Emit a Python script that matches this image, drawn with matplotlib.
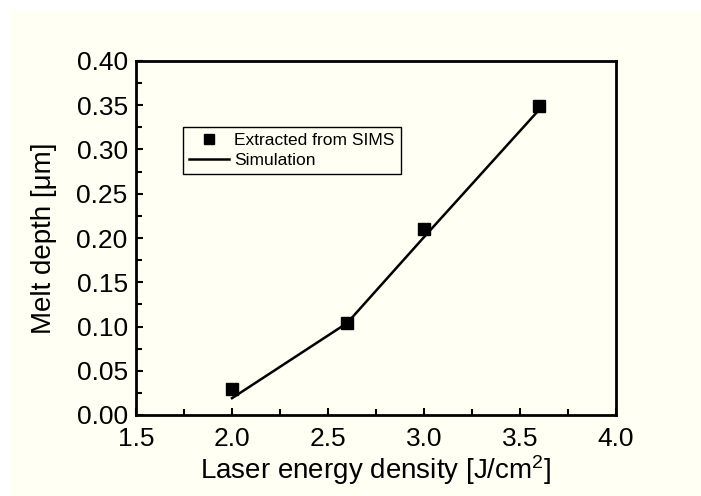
import numpy as np
import matplotlib
matplotlib.use('Agg')
import matplotlib.pyplot as plt
from matplotlib.patches import Rectangle

# Data
sims_x = [2.0, 2.6, 3.0, 3.6]
sims_y = [0.029, 0.104, 0.21, 0.349]
sim_x = [2.0, 2.6, 3.0, 3.6]
sim_y = [0.019, 0.104, 0.201, 0.345]

plt.rcParams['font.family'] = ['Liberation Sans', 'DejaVu Sans']
plt.rcParams['mathtext.fontset'] = 'custom'
plt.rcParams['mathtext.rm'] = 'Liberation Sans'
plt.rcParams['mathtext.it'] = 'Liberation Sans'

cream = '#fffff3'
fig = plt.figure(figsize=(7.01, 4.96), dpi=100, facecolor='white')
fig.patches.append(Rectangle((10 / 701, 0), 1, (496 - 10) / 496,
                             transform=fig.transFigure, facecolor=cream,
                             edgecolor='none', zorder=-1))

ax = fig.add_axes([136 / 701, 1 - 415 / 496, (616 - 136) / 701, (415 - 61) / 496])
ax.set_facecolor(cream)

ax.plot(sim_x, sim_y, color='black', lw=1.8, label='Simulation')
ax.plot(sims_x, sims_y, 's', color='black', ms=9, label='Extracted from SIMS')

ax.set_xlim(1.5, 4.0)
ax.set_ylim(0.0, 0.40)
ax.set_xticks(np.arange(1.5, 4.01, 0.5))
ax.set_yticks(np.arange(0, 0.401, 0.05))
ax.set_xticks(np.arange(1.75, 4.0, 0.5), minor=True)
ax.set_yticks(np.arange(0.025, 0.40, 0.05), minor=True)
ax.xaxis.set_major_formatter(matplotlib.ticker.FormatStrFormatter('%.1f'))
ax.yaxis.set_major_formatter(matplotlib.ticker.FormatStrFormatter('%.2f'))
ax.tick_params(which='both', direction='in', width=1.5, labelsize=19)
ax.tick_params(axis='x', which='major', pad=9)
ax.tick_params(axis='y', which='major', pad=6)
ax.tick_params(which='major', length=5)
ax.tick_params(which='minor', length=4)
for s in ax.spines.values():
    s.set_linewidth(2)

ax.set_xlabel('Laser energy density [J/cm$^2$]', fontsize=20, labelpad=1)
ax.set_ylabel('Melt depth [\u03bcm]', fontsize=20, labelpad=14)

h, l = ax.get_legend_handles_labels()
leg = ax.legend([h[1], h[0]], [l[1], l[0]], loc='upper left',
                bbox_to_anchor=((183 - 136) / 480, (415 - 127) / 354),
                fontsize=12.5, frameon=True, fancybox=False, edgecolor='black',
                facecolor=cream, framealpha=1, borderpad=0.35, labelspacing=0.25,
                handlelength=2.3, handletextpad=0.3, borderaxespad=0)
leg.get_frame().set_linewidth(1)
for lh in leg.legend_handles:
    if lh.get_marker() == 's':
        lh.set_markersize(7)

fig.savefig('out.png', dpi=100, facecolor=fig.get_facecolor())
